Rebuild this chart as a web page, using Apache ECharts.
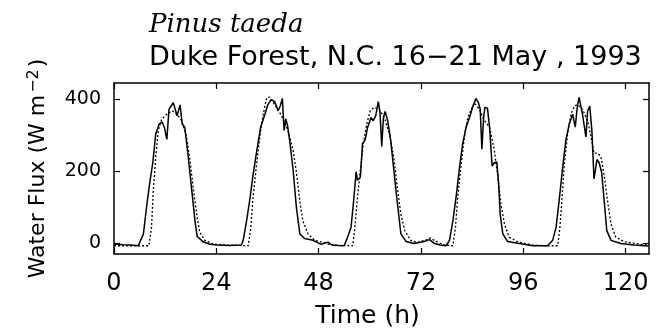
<!DOCTYPE html>
<html>
<head>
<meta charset="utf-8">
<script src="https://cdn.jsdelivr.net/npm/echarts@6/dist/echarts.min.js"></script>
<style>
html, body { margin: 0; padding: 0; background: #fff; }
#chart { width: 662px; height: 334px; }
</style>
</head>
<body>
<div id="chart"></div>
<script>
// Pinus taeda water flux, Duke Forest 16-21 May 1993
// measured (solid) and modelled (dotted)
var tMeasured = [0, 0.5, 2, 4, 5.7, 6.9, 7.7, 8.3, 9.1, 9.8, 10.6, 11.3, 11.8, 12.4, 12.9, 13.3, 13.9, 14.3, 14.8, 15.5,
    16.0, 16.6, 17.4, 18.2, 19.0, 19.5, 20.9, 22.5, 24.2, 27, 29.9, 30.3, 31.1, 31.9, 32.6, 33.4, 34.4, 35.4, 36.1, 36.9,
    37.7, 38.5, 39.0, 39.5, 39.9, 40.3, 40.7, 41.2, 42.0, 42.8, 43.6, 44.7, 46.7, 48.6, 50.2, 51.1, 52.5, 54.0, 54.8, 55.6,
    56.2, 56.8, 57.1, 57.8, 58.3, 58.9, 59.5, 60.3, 60.8, 61.4, 62.0, 62.4, 62.8, 63.2, 63.6, 64.2, 64.9, 65.7, 66.3, 66.7,
    67.3, 68.5, 70.4, 72.8, 74.0, 75.2, 76.5, 77.9, 78.7, 79.5, 80.3, 81.0, 81.8, 82.6, 83.4, 84.1, 84.9, 85.5, 85.9, 86.3,
    86.7, 87.0, 87.6, 88.1, 88.7, 89.2, 89.8, 90.2, 90.6, 91.2, 92.3, 95.1, 98.2, 100, 101.7, 102.9, 103.7, 104.4, 105.2, 106.0,
    106.8, 107.6, 108.2, 108.7, 109.1, 109.9, 110.7, 111.1, 111.6, 112.1, 112.6, 113.3, 113.8, 114.4, 115.0, 115.6, 116.6, 118.9, 122.0, 125.4];
var fluxMeasured = [-3, -2, -4, -5, -7, 26, 107, 161, 224, 305, 332, 337, 323, 289, 373, 369, 391, 396, 355, 385,
    332, 323, 242, 152, 62, 19, 4, -3, -5, -6, -5, 8, 62, 125, 188, 251, 323, 359, 386, 400,
    394, 369, 382, 403, 314, 346, 328, 287, 206, 98, 26, 13, 8, -3, 3, -5, -6, -7, 17, 44,
    116, 199, 175, 184, 278, 287, 323, 350, 341, 355, 394, 364, 269, 350, 367, 341, 287, 197, 130, 89,
    26, 5, -1, 5, 10, -1, -5, -7, 8, 62, 134, 206, 278, 323, 350, 378, 403, 391, 373, 262,
    350, 378, 376, 323, 215, 224, 226, 170, 80, 26, 5, -1, -7, -7, -7, 8, 44, 116, 206, 287,
    332, 359, 323, 382, 406, 359, 296, 368, 382, 314, 179, 233, 224, 197, 116, 35, 8, -1, -5, -8];

var tModeled = [0, 4, 8.2, 8.8, 9.2, 9.8, 10.4, 11.2, 12.3, 13.6, 14.7, 15.9, 17.0, 17.8, 18.6, 19.4, 20.1, 21.3, 23.2, 26,
    31.5, 32.1, 32.6, 33.4, 34.2, 35.0, 35.8, 36.5, 37.7, 39.3, 40.8, 42.0, 42.8, 43.6, 44.3, 45.5, 47.1, 49.4, 50.4, 53,
    56.0, 56.5, 57.1, 57.8, 58.5, 59.3, 60.1, 61.0, 62.2, 63.4, 64.6, 65.6, 66.5, 67.3, 68.2, 69.6, 71.1, 73.4, 74.2, 75.5,
    77.5, 79.5, 80.1, 80.6, 81.4, 82.2, 83.0, 83.8, 84.5, 85.7, 86.9, 88.1, 89.2, 90.0, 90.8, 91.6, 92.7, 94.7, 98.2, 101,
    104.1, 104.6, 105.1, 105.6, 106.4, 107.2, 108.0, 108.7, 109.9, 111.1, 111.9, 112.6, 113.4, 114.2, 115.0, 115.8, 116.6, 117.7, 119.7, 123.6, 125.4];
var fluxModeled = [-7, -7, -7, 44, 143, 242, 314, 346, 358, 369, 360, 341, 296, 233, 152, 80, 31, 8, -2, -5,
    -7, 44, 125, 215, 296, 359, 405, 407, 386, 355, 314, 260, 197, 116, 62, 26, 8, 1, -3, -6,
    -7, 44, 125, 206, 278, 332, 369, 378, 373, 350, 305, 242, 152, 80, 35, 8, 2, 10, 15, 5,
    -5, -7, 44, 125, 215, 296, 350, 373, 391, 373, 341, 323, 260, 188, 107, 53, 17, 4, -5, -7,
    -7, 44, 125, 215, 305, 359, 382, 386, 373, 341, 296, 251, 251, 242, 188, 116, 53, 17, 4, -3, -5];

var xTicks = [0, 24, 48, 72, 96, 120];
var yTicks = [0, 200, 400];

function zip(xs, ys) {
    var out = [];
    for (var i = 0; i < xs.length; i++) {
        out.push([xs[i], ys[i]]);
    }
    return out;
}

var SANS = 'DejaVu Sans';
var INK = '#000';
var frameLine = { show: true, onZero: false, lineStyle: { color: INK, width: 1.5 } };

function xAxisDef(pos) {
    return {
        type: 'value',
        position: pos,
        min: 0,
        max: 125.5,
        axisLine: frameLine,
        axisTick: { show: true, inside: true, length: 6, customValues: xTicks, lineStyle: { color: INK, width: 1.2 } },
        axisLabel: {
            show: pos === 'bottom',
            customValues: xTicks,
            margin: 18,
            fontFamily: SANS,
            fontSize: 24,
            color: INK
        },
        splitLine: { show: false }
    };
}

function yAxisDef(pos) {
    return {
        type: 'value',
        position: pos,
        min: -30,
        max: 446,
        axisLine: frameLine,
        axisTick: { show: true, inside: true, length: 6, customValues: yTicks, lineStyle: { color: INK, width: 1.2 } },
        axisLabel: {
            show: pos === 'left',
            customValues: yTicks,
            margin: 13,
            fontFamily: SANS,
            fontSize: 19,
            color: INK
        },
        splitLine: { show: false }
    };
}

var xBottom = xAxisDef('bottom');
xBottom.name = 'Time (h)';
xBottom.nameLocation = 'middle';
xBottom.nameGap = 50;
xBottom.nameTextStyle = { fontFamily: SANS, fontSize: 25, color: INK, padding: [0, 28, 0, 0] };

var yLeft = yAxisDef('left');
yLeft.name = '{a|Water Flux (W m}{b|−2}{a|)}';
yLeft.nameLocation = 'middle';
yLeft.nameGap = 64;
yLeft.nameTextStyle = {
    rich: {
        a: { fontFamily: SANS, fontSize: 22, color: INK },
        b: { fontFamily: SANS, fontSize: 16, color: INK, verticalAlign: 'top', padding: [0, 2, 8, 2] }
    }
};

var option = {
    animation: false,
    backgroundColor: '#fff',
    title: [
        {
            text: 'Pinus taeda',
            left: 144,
            top: 7,
            textStyle: { fontFamily: 'DejaVu Serif', fontStyle: 'italic', fontWeight: 'normal', fontSize: 26, color: INK }
        },
        {
            text: 'Duke Forest, N.C. 16−21 May , 1993',
            left: 144,
            top: 39,
            textStyle: { fontFamily: SANS, fontWeight: 'normal', fontSize: 27, color: INK }
        }
    ],
    grid: { left: 114, right: 13, top: 83, bottom: 75 },
    xAxis: [xBottom, xAxisDef('top')],
    yAxis: [yLeft, yAxisDef('right')],
    series: [
        {
            name: 'measured',
            type: 'line',
            data: zip(tMeasured, fluxMeasured),
            showSymbol: false,
            lineStyle: { color: INK, width: 1.5 }
        },
        {
            name: 'modeled',
            type: 'line',
            data: zip(tModeled, fluxModeled),
            showSymbol: false,
            lineStyle: { color: INK, width: 1.3, type: [2, 2] }
        }
    ]
};

var myChart = echarts.init(document.getElementById('chart'));
myChart.setOption(option);
</script>
</body>
</html>
